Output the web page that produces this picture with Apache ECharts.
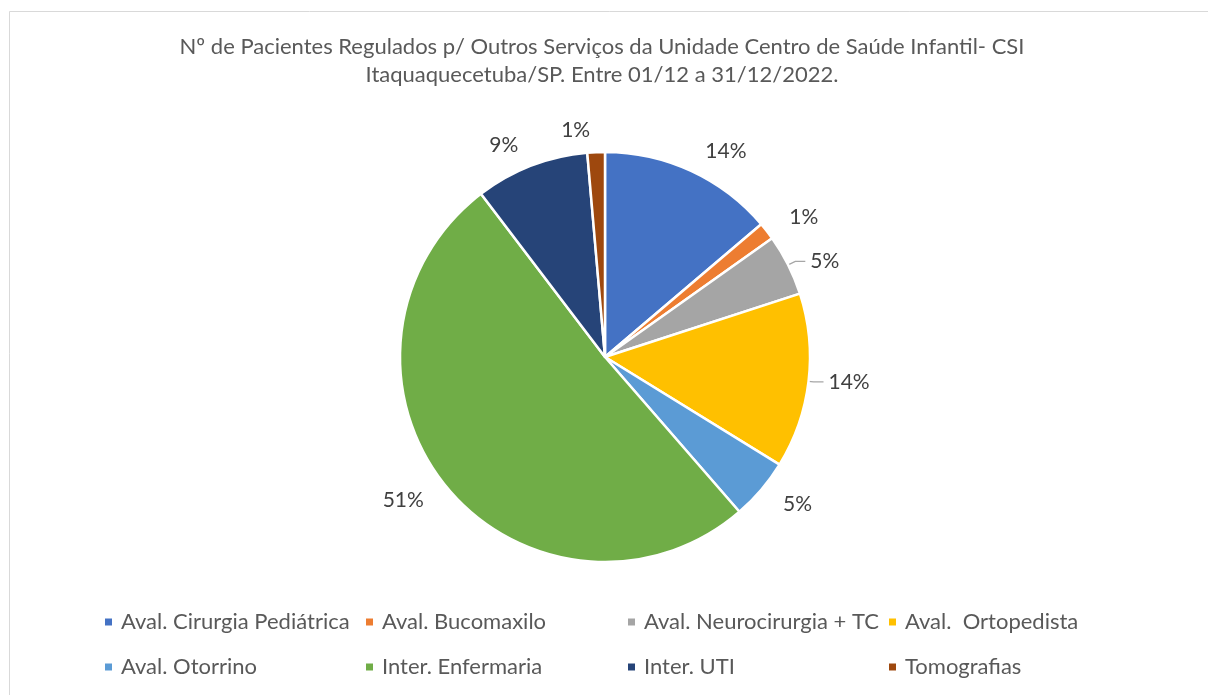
<!DOCTYPE html>
<html>
<head>
<meta charset="utf-8">
<script src="https://cdn.jsdelivr.net/npm/echarts@6/dist/echarts.min.js"></script>
<style>
  html, body { margin: 0; padding: 0; background: #fff; }
  #main { width: 1208px; height: 695px; }
</style>
</head>
<body>
<div id="main"></div>
<script>
// dados do gráfico
var categorias = ['Aval. Cirurgia Pediátrica', 'Aval. Bucomaxilo', 'Aval. Neurocirurgia + TC', 'Aval.  Ortopedista',
  'Aval. Otorrino', 'Inter. Enfermaria', 'Inter. UTI', 'Tomografias'];
var pacientes = [20, 2, 7, 20, 7, 74, 13, 2];
var cores = ['#4472C4', '#ED7D31', '#A5A5A5', '#FFC000', '#5B9BD5', '#70AD47', '#264478', '#9E480E'];
var comLinha = [false, false, true, true, false, false, false, false];

var chart = echarts.init(document.getElementById('main'));

var total = pacientes.reduce(function (a, b) { return a + b; }, 0);

// legenda em grade 4 x 2, como no Excel
var colX = [103, 364, 626, 887];
var rowY = [611, 656];
var legendas = categorias.map(function (nome, i) {
  return {
    data: [nome],
    left: colX[i % 4],
    top: rowY[Math.floor(i / 4)],
    padding: 0,
    icon: 'rect',
    itemWidth: 9,
    itemHeight: 9,
    selectedMode: false,
    textStyle: { color: '#595959', fontSize: 22, fontFamily: 'Lato', padding: [0, 0, 0, 3] }
  };
});

// rótulos com linha de chamada (cinza e amarelo)
var linhaCfg = [null, null, { length: 8, length2: 10 }, { length: 5, length2: 10 }, null, null, null, null];

var option = {
  backgroundColor: '#ffffff',
  color: cores,
  title: {
    text: 'Nº de Pacientes Regulados p/ Outros Serviços da Unidade Centro de Saúde Infantil- CSI\nItaquaquecetuba/SP. Entre 01/12 a 31/12/2022.',
    left: 597,
    top: 28,
    textAlign: 'center',
    textStyle: { color: '#595959', fontSize: 22, fontWeight: 'normal', fontFamily: 'Lato', lineHeight: 28 }
  },
  legend: legendas,
  graphic: [{
    type: 'rect',
    shape: { x: 9.5, y: 11.5, width: 1300, height: 800 },
    style: { fill: 'none', stroke: '#d9d9d9', lineWidth: 1 },
    silent: true
  }],
  series: [{
    type: 'pie',
    center: [605, 357],
    radius: [0, 205],
    startAngle: 90,
    clockwise: true,
    avoidLabelOverlap: false,
    itemStyle: { borderColor: '#ffffff', borderWidth: 2.5 },
    label: {
      position: 'outside',
      color: '#404040',
      fontSize: 21,
      fontFamily: 'Lato',
      formatter: function (p) { return Math.round(p.value / total * 100) + '%'; }
    },
    labelLine: { length: 22, length2: 0, lineStyle: { color: '#a6a6a6', width: 1.3 } },
    emphasis: { disabled: true },
    data: categorias.map(function (nome, i) {
      var ll = { show: comLinha[i] };
      if (linhaCfg[i]) { ll.length = linhaCfg[i].length; ll.length2 = linhaCfg[i].length2; }
      return {
        name: nome,
        value: pacientes[i],
        labelLine: ll
      };
    })
  }]
};

chart.setOption(option);
</script>
</body>
</html>
